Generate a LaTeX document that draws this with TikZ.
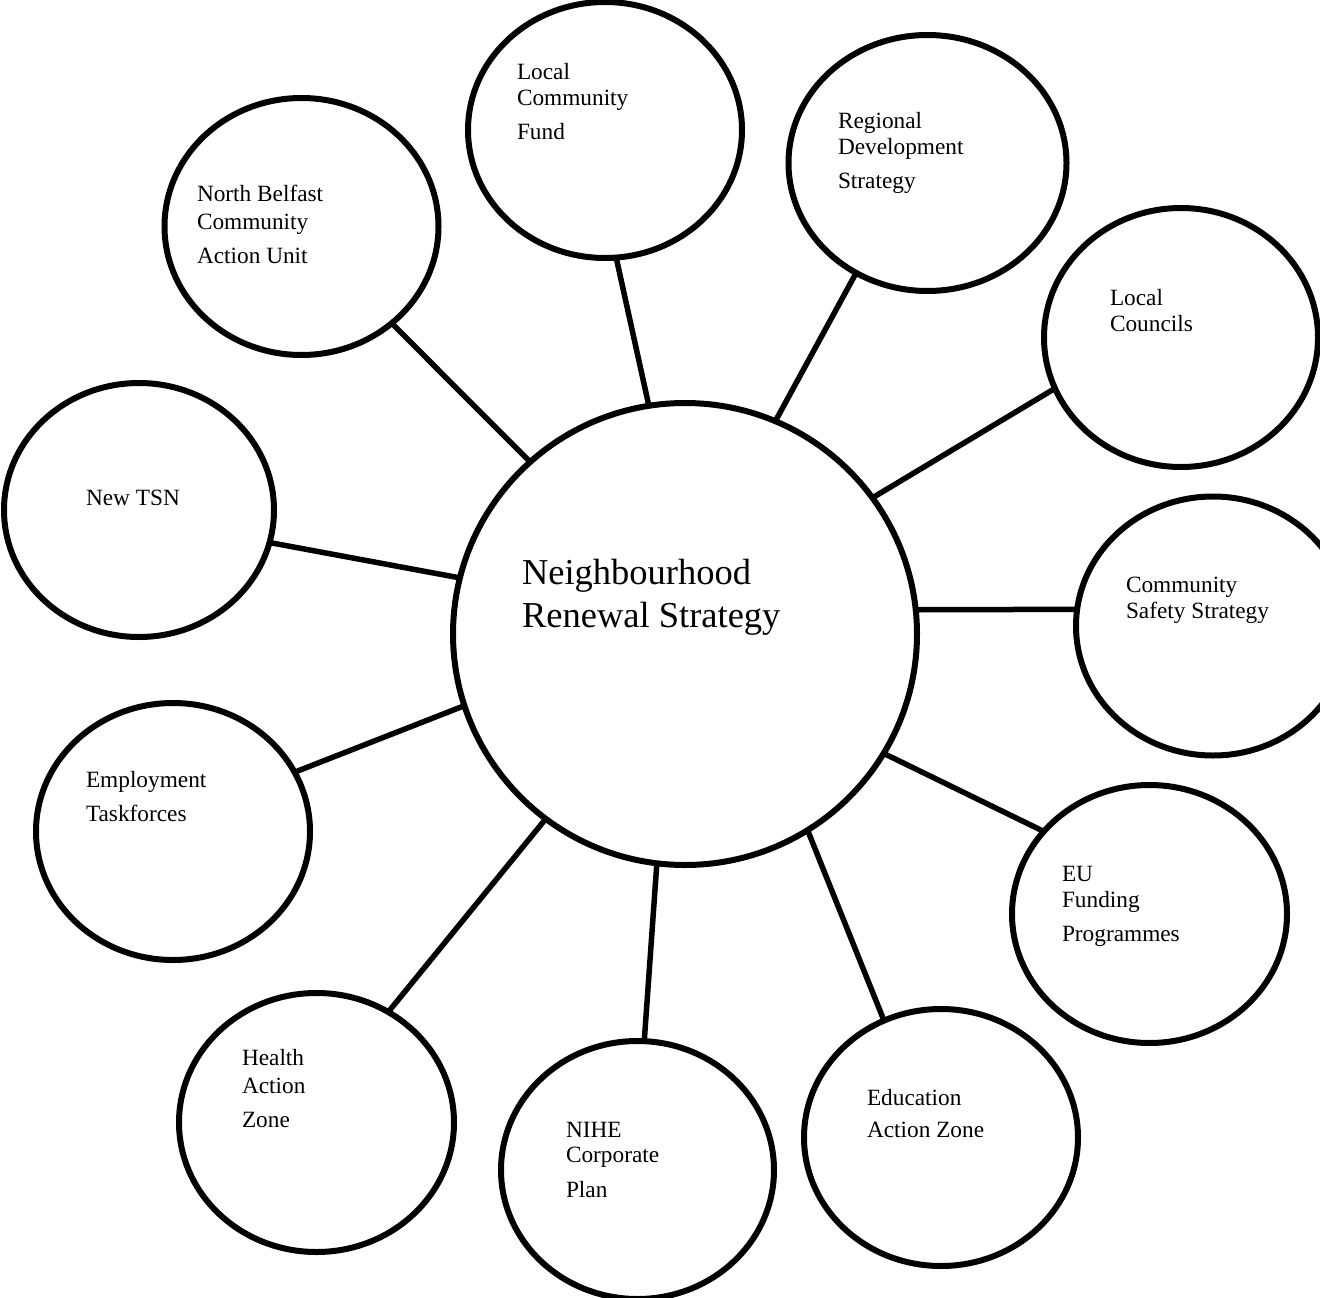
\documentclass[tikz,border=0pt]{standalone}
\usepackage{fontspec}
\setmainfont{Liberation Serif}
\usetikzlibrary{shapes.geometric}

\begin{document}
\begin{tikzpicture}[x=1pt,y=-1pt,
  bubble/.style={draw=black, line width=6pt, ellipse, inner sep=0pt, outer sep=0pt},
  link/.style={draw=black, line width=5.5pt},
  lbl/.style={anchor=base west, inner sep=0pt, outer sep=0pt, font=\fontsize{23.3}{28}\selectfont},
  biglbl/.style={anchor=base west, inner sep=0pt, outer sep=0pt, font=\fontsize{36.5}{43}\selectfont}]
\useasboundingbox (0,0) rectangle (1320,1298);
\fill[white] (0,0) rectangle (1320,1298);

% central strategy and the surrounding programmes
\node[bubble, minimum width=464pt, minimum height=462pt] (nrs)  at (685,634) {};
\node[bubble, minimum width=274pt, minimum height=257pt] (nb)   at (301.5,226.5) {};
\node[bubble, minimum width=274pt, minimum height=256pt] (lcf)  at (605,130) {};
\node[bubble, minimum width=278pt, minimum height=256pt] (rds)  at (927.5,163) {};
\node[bubble, minimum width=274pt, minimum height=259pt] (lc)   at (1181,337.5) {};
\node[bubble, minimum width=270pt, minimum height=254pt] (tsn)  at (139,510) {};
\node[bubble, minimum width=274pt, minimum height=259pt] (css)  at (1213,626) {};
\node[bubble, minimum width=274pt, minimum height=257pt] (emp)  at (173,831.5) {};
\node[bubble, minimum width=275pt, minimum height=258pt] (eu)   at (1149.5,914) {};
\node[bubble, minimum width=275pt, minimum height=259pt] (haz)  at (316.5,1122.5) {};
\node[bubble, minimum width=273pt, minimum height=258pt] (nihe) at (637.5,1170) {};
\node[bubble, minimum width=274pt, minimum height=257pt] (eaz)  at (941,1137.5) {};

% spokes
\draw[link] (nrs.132.3)  -- (nb.-47.2);
\draw[link] (nrs.99.9)   -- (lcf.-85.6);
\draw[link] (nrs.67.8)   -- (rds.-123.2);
\draw[link] (nrs.36.5)   -- (lc.202.6);
\draw[link] (nrs.6.0)    -- (css.173.3);
\draw[link] (nrs.-31.2)  -- (eu.142.6);
\draw[link] (nrs.-58.8)  -- (eaz.116.7);
\draw[link] (nrs.263.9)  -- (nihe.87.1);
\draw[link] (nrs.233.5)  -- (haz.57.3);
\draw[link] (nrs.198.6)  -- (emp.26.4);
\draw[link] (nrs.166.6)  -- (tsn.-14.8);

% labels
\node[biglbl] (nrs1) at (522,584) {Neighbourhood};
\node[biglbl] (nrs2) at (522,627) {Renewal Strategy};

\node[lbl] (nb1) at (197,201) {North Belfast};
\node[lbl] (nb2) at (197,229) {Community};
\node[lbl] (nb3) at (197,263) {Action Unit};

\node[lbl] (lcf1) at (517,80)  {Local};
\node[lbl] (lcf2) at (517,106) {Community};
\node[lbl] (lcf3) at (517,139) {Fund};

\node[lbl] (rds1) at (838,128) {Regional};
\node[lbl] (rds2) at (838,154) {Development};
\node[lbl] (rds3) at (838,188) {Strategy};

\node[lbl] (lc1) at (1110,305) {Local};
\node[lbl] (lc2) at (1110,331) {Councils};

\node[lbl] (tsn1) at (86,505) {New TSN};

\node[lbl] (css1) at (1126,592) {Community};
\node[lbl] (css2) at (1126,618) {Safety Strategy};

\node[lbl] (emp1) at (86,787) {Employment};
\node[lbl] (emp2) at (86,821) {Taskforces};

\node[lbl] (eu1) at (1062,881) {EU};
\node[lbl] (eu2) at (1062,907) {Funding};
\node[lbl] (eu3) at (1062,941) {Programmes};

\node[lbl] (haz1) at (242,1065) {Health};
\node[lbl] (haz2) at (242,1093) {Action};
\node[lbl] (haz3) at (242,1127) {Zone};

\node[lbl] (nihe1) at (566,1137) {NIHE};
\node[lbl] (nihe2) at (566,1162) {Corporate};
\node[lbl] (nihe3) at (566,1197) {Plan};

\node[lbl] (eaz1) at (867,1105) {Education};
\node[lbl] (eaz2) at (867,1137) {Action Zone};
\end{tikzpicture}
\end{document}
